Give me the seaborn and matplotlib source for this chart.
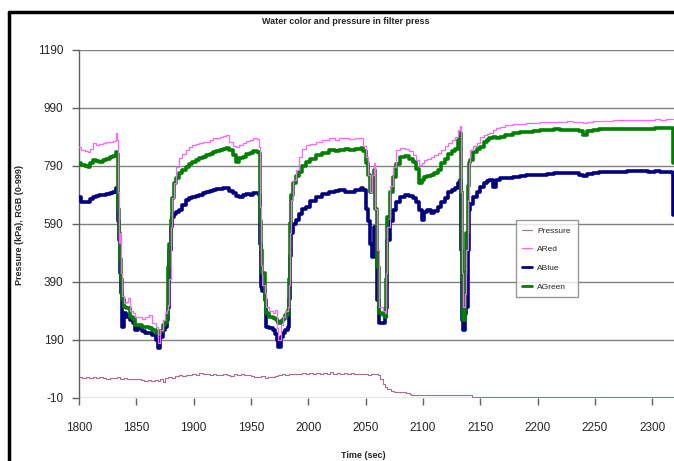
import matplotlib
matplotlib.use("Agg")
import matplotlib.pyplot as plt
import pandas as pd
import seaborn as sns
from matplotlib.lines import Line2D

# time axis shared by the three colour channels (sec)
time = [1800, 1802, 1805, 1808, 1810, 1812, 1815, 1818, 1821, 1824, 1827, 1830,
        1832, 1833, 1834, 1835, 1836, 1837, 1838, 1839, 1841, 1843, 1845, 1847,
        1849, 1852, 1855, 1858, 1861, 1864, 1867, 1869, 1871, 1873, 1875, 1877,
        1878, 1879, 1880, 1881, 1883, 1885, 1887, 1890, 1893, 1896, 1899, 1902,
        1905, 1908, 1911, 1914, 1917, 1920, 1923, 1926, 1928, 1931, 1934, 1937,
        1940, 1943, 1946, 1949, 1952, 1955, 1957, 1958, 1959, 1960, 1962, 1963,
        1966, 1969, 1971, 1973, 1974, 1976, 1978, 1980, 1982, 1983, 1984, 1985,
        1987, 1989, 1992, 1995, 1998, 2002, 2007, 2012, 2018, 2023, 2027, 2032,
        2036, 2041, 2046, 2048, 2050, 2052, 2054, 2056, 2057, 2058, 2060, 2062,
        2065, 2067, 2068, 2069, 2071, 2074, 2077, 2080, 2084, 2088, 2091, 2094,
        2097, 2099, 2101, 2104, 2107, 2110, 2113, 2116, 2119, 2122, 2125, 2128,
        2131, 2132, 2133, 2134, 2135, 2137, 2138, 2139, 2140, 2141, 2144, 2147,
        2150, 2153, 2156, 2158, 2161, 2164, 2167, 2172, 2179, 2185, 2190, 2196,
        2202, 2208, 2214, 2220, 2226, 2231, 2236, 2240, 2243, 2248, 2254, 2260,
        2266, 2272, 2278, 2284, 2290, 2296, 2302, 2307, 2312, 2317, 2318]

a_blue = [684, 667, 665, 667, 675, 683, 686, 690, 690, 692, 696, 700,
          713, 700, 600, 535, 420, 351, 236, 282, 270, 275, 259, 250,
          224, 230, 220, 213, 215, 207, 190, 161, 201, 225, 236, 260,
          300, 500, 581, 615, 625, 632, 638, 655, 673, 680, 684, 688,
          690, 695, 700, 703, 707, 710, 712, 713, 713, 705, 696, 688,
          684, 690, 692, 690, 695, 696, 690, 520, 374, 360, 328, 236,
          230, 224, 210, 190, 167, 200, 213, 225, 236, 330, 480, 558,
          590, 604, 625, 640, 650, 668, 684, 692, 701, 703, 707, 700,
          701, 708, 713, 707, 640, 600, 520, 477, 581, 500, 328, 248,
          248, 270, 300, 535, 600, 638, 665, 684, 690, 686, 679, 665,
          638, 604, 630, 638, 627, 635, 650, 665, 680, 700, 707, 715,
          730, 742, 500, 259, 224, 280, 305, 500, 638, 660, 684, 700,
          719, 731, 738, 742, 719, 740, 748, 750, 751, 755, 759, 758,
          759, 763, 765, 764, 765, 765, 760, 756, 762, 766, 770, 768,
          770, 770, 771, 772, 773, 770, 772, 770, 768, 767, 620]

a_green = [801, 793, 790, 788, 800, 811, 806, 805, 810, 815, 822, 825,
           839, 830, 640, 560, 470, 400, 330, 305, 300, 299, 270, 262,
           242, 240, 236, 236, 230, 224, 215, 213, 220, 240, 253, 270,
           443, 520, 604, 680, 730, 750, 765, 775, 788, 796, 805, 810,
           816, 822, 828, 832, 839, 842, 845, 848, 851, 845, 828, 805,
           816, 822, 830, 836, 840, 838, 834, 600, 500, 420, 328, 283,
           270, 266, 262, 255, 250, 255, 262, 275, 293, 400, 593, 690,
           730, 755, 770, 790, 805, 815, 828, 835, 845, 843, 845, 848,
           846, 850, 851, 840, 800, 760, 700, 740, 776, 640, 443, 283,
           275, 270, 400, 615, 700, 753, 795, 822, 826, 815, 805, 780,
           730, 740, 753, 756, 759, 765, 776, 800, 815, 830, 840, 850,
           880, 903, 700, 400, 259, 420, 558, 720, 799, 811, 839, 850,
           857, 874, 880, 885, 891, 888, 891, 895, 903, 906, 908, 912,
           914, 915, 916, 914, 915, 914, 910, 897, 910, 915, 916, 918,
           917, 918, 916, 918, 917, 919, 920, 922, 920, 920, 800]

a_red = [857, 845, 840, 839, 850, 868, 862, 866, 868, 872, 874, 876,
         903, 880, 700, 523, 560, 420, 340, 317, 320, 334, 290, 282,
         270, 270, 264, 268, 276, 248, 236, 179, 224, 260, 283, 293,
         310, 400, 581, 680, 730, 788, 816, 830, 845, 855, 862, 866,
         868, 872, 874, 880, 885, 888, 891, 894, 897, 874, 860, 857,
         862, 868, 875, 880, 885, 883, 857, 650, 450, 380, 352, 305,
         290, 282, 295, 230, 190, 240, 270, 290, 305, 380, 560, 673,
         740, 776, 820, 850, 862, 866, 874, 878, 885, 880, 887, 885,
         884, 887, 885, 860, 820, 760, 700, 760, 799, 640, 500, 305,
         290, 282, 420, 581, 720, 788, 845, 851, 848, 840, 828, 810,
         793, 800, 811, 815, 822, 828, 834, 845, 860, 868, 880, 891,
         914, 926, 700, 420, 305, 350, 500, 673, 800, 845, 860, 870,
         891, 895, 900, 905, 915, 920, 925, 930, 933, 935, 937, 938,
         940, 942, 943, 942, 944, 943, 941, 937, 942, 944, 946, 945,
         947, 948, 949, 950, 949, 950, 951, 950, 952, 951, 951]

# filter press pressure (kPa)
p_time = [1800, 1803, 1806, 1809, 1812, 1815, 1818, 1821, 1824, 1827, 1830, 1833,
          1836, 1839, 1842, 1845, 1848, 1851, 1854, 1857, 1860, 1863, 1866, 1869,
          1871, 1873, 1875, 1878, 1881, 1884, 1887, 1890, 1893, 1896, 1899, 1902,
          1905, 1908, 1911, 1914, 1917, 1920, 1923, 1926, 1929, 1932, 1935, 1938,
          1941, 1944, 1947, 1950, 1953, 1956, 1959, 1962, 1965, 1968, 1971, 1974,
          1977, 1980, 1983, 1986, 1989, 1992, 1995, 1998, 2001, 2004, 2007, 2010,
          2013, 2016, 2019, 2022, 2025, 2028, 2031, 2034, 2037, 2040, 2043, 2046,
          2049, 2052, 2055, 2058, 2061, 2063, 2065, 2067, 2069, 2072, 2075, 2080,
          2085, 2089, 2090, 2142, 2143, 2320]
pressure = [63, 60, 62, 58, 61, 59, 62, 60, 57, 60, 58, 61,
            56, 58, 55, 57, 54, 56, 53, 50, 52, 49, 53, 48,
            55, 45, 58, 62, 60, 65, 68, 66, 70, 68, 72, 70,
            75, 71, 73, 69, 72, 70, 68, 72, 70, 67, 71, 69,
            72, 68, 70, 66, 64, 62, 65, 60, 63, 61, 66, 70,
            72, 70, 73, 71, 74, 72, 75, 73, 76, 72, 75, 73,
            77, 74, 80, 72, 75, 71, 76, 73, 75, 71, 74, 72,
            73, 70, 72, 71, 69, 55, 38, 27, 20, 15, 12, 11,
            8, 5, 1, 1, -8, -8]

y_ticks = [-10, 190, 390, 590, 790, 990, 1190]
x_ticks = [1800, 1850, 1900, 1950, 2000, 2050, 2100, 2150, 2200, 2250, 2300]

sns.set_style("white")
plt.rcParams["font.family"] = ["Liberation Sans", "DejaVu Sans"]
plt.rcParams["axes.unicode_minus"] = False

fig = plt.figure(figsize=(6.74, 4.61), dpi=100)
ax = fig.add_axes([0.117, 0.1367, 0.883, 0.755])

# horizontal grid drawn under the data
for yv in y_ticks:
    ax.axhline(yv, color="#808080", lw=1.0, zorder=0)

sns.lineplot(x=p_time, y=pressure, ax=ax, color="#b8668c", lw=0.8,
             drawstyle="steps-post", label="Pressure", zorder=2)
sns.lineplot(x=time, y=a_red, ax=ax, color="#ff66ff", lw=0.9,
             drawstyle="steps-post", label="ARed", zorder=5)
sns.lineplot(x=time, y=a_blue, ax=ax, color="#000080", lw=2.6,
             drawstyle="steps-post", label="ABlue", zorder=3)
sns.lineplot(x=time, y=a_green, ax=ax, color="#008000", lw=2.6,
             drawstyle="steps-post", label="AGreen", zorder=4)

ax.set_xlim(1800, 2319)
ax.set_ylim(-10, 1190)
ax.set_xticks(x_ticks)
ax.set_yticks(y_ticks)
ax.set_xlabel("")
ax.set_ylabel("")
ax.tick_params(axis="x", direction="out", length=5, width=1, color="#606060",
               pad=12, labelsize=8.5, bottom=True)
ax.tick_params(axis="y", direction="out", length=5, width=1, color="#606060",
               pad=6, labelsize=8.5, left=True)
for side in ["top", "right", "bottom"]:
    ax.spines[side].set_visible(False)
ax.spines["left"].set_color("#606060")
ax.spines["left"].set_linewidth(1.0)

leg = ax.legend(loc="upper left", bbox_to_anchor=(0.734, 0.511), fontsize=6,
                frameon=True, fancybox=False, edgecolor="#808080",
                handlelength=1.2, handletextpad=0.6, borderpad=0.8,
                labelspacing=1.3, borderaxespad=0)
leg.get_frame().set_linewidth(1.0)
for line in leg.get_lines():
    if line.get_linewidth() > 2:
        line.set_linewidth(2.0)

fig.text(346 / 674, 1 - 22 / 461, "Water color and pressure in filter press",
         ha="center", va="center", fontsize=6.5, fontweight="bold")
fig.text(363 / 674, 1 - 455 / 461, "Time (sec)", ha="center", va="center",
         fontsize=6.5, fontweight="bold")
fig.text(20 / 674, 1 - 225 / 461, "Pressure (kPa), RGB (0-999)", ha="center",
         va="center", rotation=90, fontsize=6.5, fontweight="bold")

# thick black frame on the top and left edges
fig.add_artist(Line2D([9 / 674, 9 / 674], [0, 1 - 12 / 461], color="black",
                      lw=2.5, transform=fig.transFigure))
fig.add_artist(Line2D([9 / 674, 1], [1 - 12 / 461, 1 - 12 / 461], color="black",
                      lw=2.5, transform=fig.transFigure))

fig.savefig("out.png", dpi=100)
